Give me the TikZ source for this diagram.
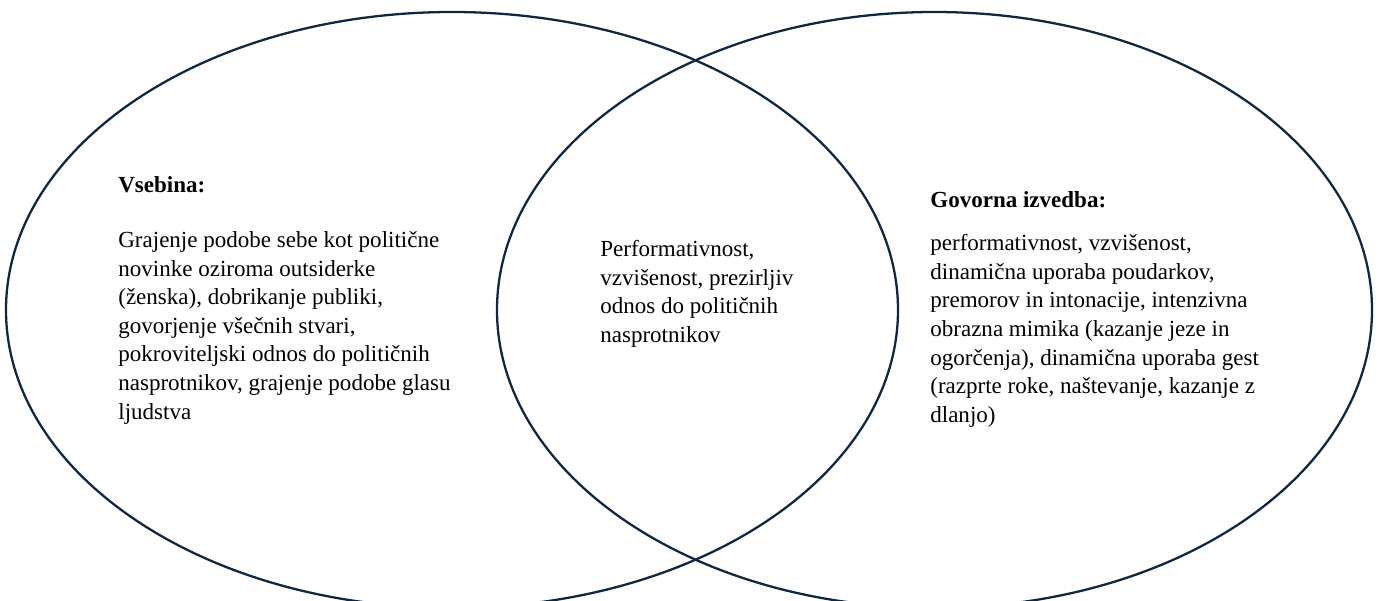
\documentclass[tikz,border=0pt]{standalone}
\usepackage{fontspec}
\setmainfont{Liberation Serif}
\usepackage{tikz}

\definecolor{venncol}{RGB}{14,40,65}
\tikzset{
  vennline/.style={draw=venncol, line width=1.3pt},
  venntext/.style={anchor=north west, align=left, inner sep=0pt,
    font=\fontsize{13.1}{16.3}\selectfont},
  vennhead/.style={anchor=base west, inner sep=0pt,
    font=\fontsize{13.1}{16.3}\selectfont\bfseries}
}

\begin{document}
\begin{tikzpicture}
  \useasboundingbox (0,0) rectangle (27.74,12);
  \clip (0,0) rectangle (27.74,12);
  % the two sets
  \draw[vennline] (9.04,5.8) coordinate (lc) ellipse [x radius=8.92, y radius=5.96];
  \draw[vennline] (18.69,5.8) coordinate (rc) ellipse [x radius=8.75, y radius=5.96];
  % left set
  \node[vennhead] (vsebinahead) at (2.36,8.14) {Vsebina:};
  \node[venntext] (vsebina) at (2.36,7.38)
    {Grajenje podobe sebe kot politične\\
     novinke oziroma outsiderke\\
     (ženska), dobrikanje publiki,\\
     govorjenje všečnih stvari,\\
     pokroviteljski odnos do političnih\\
     nasprotnikov, grajenje podobe glasu\\
     ljudstva};
  % overlap
  \node[venntext] (skupno) at (12.0,7.2)
    {Performativnost,\\
     vzvišenost, prezirljiv\\
     odnos do političnih\\
     nasprotnikov};
  % right set
  \node[vennhead] (izvedbahead) at (18.6,7.84) {Govorna izvedba:};
  \node[venntext] (izvedba) at (18.6,7.32)
    {performativnost, vzvišenost,\\
     dinamična uporaba poudarkov,\\
     premorov in intonacije, intenzivna\\
     obrazna mimika (kazanje jeze in\\
     ogorčenja), dinamična uporaba gest\\
     (razprte roke, naštevanje, kazanje z\\
     dlanjo)};
\end{tikzpicture}
\end{document}
